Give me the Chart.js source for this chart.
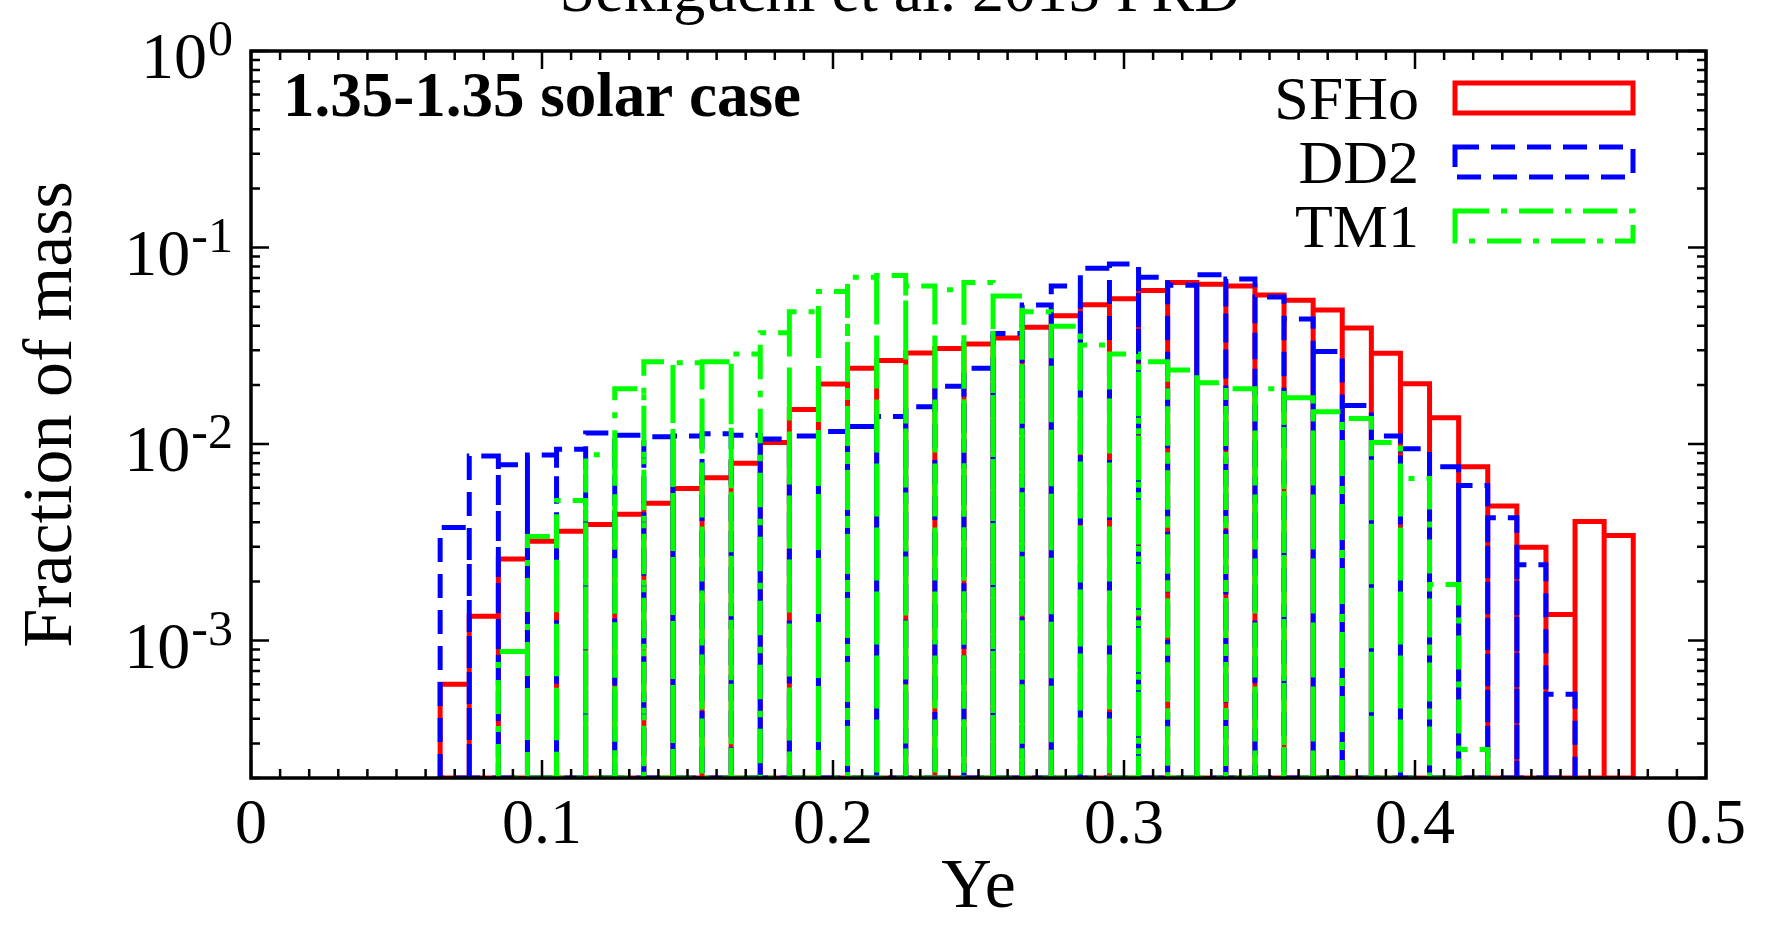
<!DOCTYPE html>
<html>
<head>
<meta charset="utf-8">
<script src="https://cdn.jsdelivr.net/npm/chart.js@4.4.1/dist/chart.umd.min.js"></script>
<style>
  html, body { margin: 0; padding: 0; background: #fff; }
</style>
</head>
<body>
<canvas id="hist" width="1769" height="939"></canvas>
<script>
// bin centres (Ye), bin width 0.01
const yeBins = [0.07, 0.08, 0.09, 0.10, 0.11, 0.12, 0.13, 0.14, 0.15, 0.16,
                0.17, 0.18, 0.19, 0.20, 0.21, 0.22, 0.23, 0.24, 0.25, 0.26,
                0.27, 0.28, 0.29, 0.30, 0.31, 0.32, 0.33, 0.34, 0.35, 0.36,
                0.37, 0.38, 0.39, 0.40, 0.41, 0.42, 0.43, 0.44, 0.45, 0.46, 0.47];

const sfhoMass = [6.0e-4, 1.33e-3, 2.6e-3, 3.2e-3, 3.6e-3, 3.9e-3, 4.4e-3, 5.0e-3, 5.95e-3, 6.75e-3,
                  8.0e-3, 1.02e-2, 1.5e-2, 2.02e-2, 2.43e-2, 2.66e-2, 2.91e-2, 3.06e-2, 3.23e-2, 3.47e-2,
                  3.93e-2, 4.5e-2, 5.12e-2, 5.49e-2, 6.05e-2, 6.63e-2, 6.5e-2, 6.37e-2, 5.73e-2, 5.4e-2,
                  4.81e-2, 3.9e-2, 2.9e-2, 2.03e-2, 1.36e-2, 7.67e-3, 4.84e-3, 2.99e-3, 1.36e-3, 4.04e-3, 3.43e-3];

const dd2Mass = [3.76e-3, 8.7e-3, 7.85e-3, 8.8e-3, 9.4e-3, 1.14e-2, 1.11e-2, 1.09e-2, 1.10e-2, 1.13e-2,
                 1.11e-2, 1.06e-2, 1.10e-2, 1.16e-2, 1.23e-2, 1.38e-2, 1.55e-2, 1.97e-2, 2.43e-2, 3.65e-2,
                 5.1e-2, 6.37e-2, 7.85e-2, 8.25e-2, 7.06e-2, 6.42e-2, 7.27e-2, 6.92e-2, 5.61e-2, 4.33e-2,
                 2.96e-2, 1.57e-2, 1.10e-2, 9.46e-3, 7.67e-3, 6.15e-3, 4.22e-3, 2.43e-3, 5.33e-4, null, null];

const tm1Mass = [null, null, 8.8e-4, 3.39e-3, 5.17e-3, 8.83e-3, 1.91e-2, 2.62e-2, 2.59e-2, 2.62e-2,
                 2.87e-2, 3.69e-2, 4.71e-2, 5.97e-2, 7.06e-2, 7.2e-2, 6.37e-2, 6.1e-2, 6.63e-2, 5.67e-2,
                 4.71e-2, 3.98e-2, 3.19e-2, 2.87e-2, 2.62e-2, 2.38e-2, 2.05e-2, 1.91e-2, 1.91e-2, 1.72e-2,
                 1.46e-2, 1.35e-2, 1.02e-2, 6.68e-3, 1.93e-3, 2.79e-4, null, null, null, null, null];

const seriesNames = ['SFHo', 'DD2', 'TM1'];
const xTicks = [0, 0.1, 0.2, 0.3, 0.4, 0.5];
const yDecades = [0, -1, -2, -3];

const binWidth = 0.01;
const yMin = 2e-4;
const yMax = 1;
const serif = '"Liberation Serif", "Times New Roman", serif';

// gnuplot "with boxes": every bin is an open box from the bottom of the axis
function boxPath(values) {
    const pts = [];
    let first = null;
    yeBins.forEach((c, i) => {
        const v = values[i];
        if (v == null) return;
        const x0 = c - binWidth / 2, x1 = c + binWidth / 2;
        pts.push({x: x0, y: yMin}, {x: x0, y: v}, {x: x1, y: v}, {x: x1, y: yMin});
        if (first === null) first = x0;
    });
    pts.push({x: first, y: yMin});
    return pts;
}

const gnuFrame = {
    id: 'gnuFrame',
    afterDraw(chart) {
        const ctx = chart.ctx;
        const a = chart.chartArea;
        const xs = chart.scales.x, ys = chart.scales.y;
        ctx.save();
        ctx.strokeStyle = '#000';
        ctx.lineCap = 'butt';

        // inward tick marks
        ctx.lineWidth = 2.5;
        ctx.beginPath();
        for (let k = 0; k <= 50; k++) {
            const px = xs.getPixelForValue(k / 100);
            const len = k % 10 === 0 ? 18 : 9;
            ctx.moveTo(px, a.bottom); ctx.lineTo(px, a.bottom - len);
            ctx.moveTo(px, a.top); ctx.lineTo(px, a.top + len);
        }
        for (let e = -4; e <= 0; e++) {
            for (let m = 1; m <= 9; m++) {
                const v = m * Math.pow(10, e);
                if (v < yMin * 0.999 || v > yMax * 1.001) continue;
                const py = ys.getPixelForValue(v);
                const len = m === 1 ? 18 : 9;
                ctx.moveTo(a.left, py); ctx.lineTo(a.left + len, py);
                ctx.moveTo(a.right, py); ctx.lineTo(a.right - len, py);
            }
        }
        ctx.stroke();

        // frame
        ctx.lineWidth = 3.5;
        ctx.strokeRect(a.left, a.top, a.right - a.left, a.bottom - a.top);

        // y tick labels 10^n
        ctx.fillStyle = '#000';
        ctx.textAlign = 'right';
        ctx.textBaseline = 'alphabetic';
        const labRight = a.left - 18;
        yDecades.forEach(e => {
            const py = ys.getPixelForValue(Math.pow(10, e));
            const sup = String(e);
            ctx.font = '50px ' + serif;
            const w = ctx.measureText(sup).width;
            ctx.fillText(sup, labRight, py + 4);
            ctx.font = '66px ' + serif;
            ctx.fillText('10', labRight - w - 1, py + 27);
        });

        // legend, top right inside the frame
        const dsOrder = [0, 1, 2];
        dsOrder.forEach((i, row) => {
            const ds = chart.data.datasets[i];
            const cy = a.top + 47 + row * 64;
            ctx.font = '62px ' + serif;
            ctx.textAlign = 'right';
            ctx.fillStyle = '#000';
            ctx.fillText(ds.label, a.right - 287, cy + 21);
            ctx.strokeStyle = ds.borderColor;
            ctx.lineWidth = ds.borderWidth;
            ctx.setLineDash(ds.borderDash || []);
            ctx.strokeRect(a.right - 251, cy - 15, 178, 30);
            ctx.setLineDash([]);
        });

        // case label
        ctx.fillStyle = '#000';
        ctx.textAlign = 'left';
        ctx.font = 'bold 63px ' + serif;
        ctx.fillText('1.35-1.35 solar case', a.left + 32, a.top + 65);

        // plot title, cut by the top edge of the page
        ctx.textAlign = 'center';
        ctx.font = '64px ' + serif;
        ctx.fillText('Sekiguchi et al. 2015 PRD', 900, 11);
        ctx.restore();
    }
};

new Chart(document.getElementById('hist'), {
    type: 'line',
    data: {
        datasets: [
            {label: seriesNames[0], data: boxPath(sfhoMass), borderColor: '#ff0000',
             borderWidth: 5, borderDash: [], order: 2},
            {label: seriesNames[1], data: boxPath(dd2Mass), borderColor: '#0000ff',
             borderWidth: 5, borderDash: [24, 12], order: 1},
            {label: seriesNames[2], data: boxPath(tm1Mass), borderColor: '#00ff00',
             borderWidth: 5, borderDash: [34, 12, 6, 12], order: 0}
        ]
    },
    options: {
        responsive: false,
        animation: false,
        devicePixelRatio: 1,
        layout: {padding: {left: 18, right: 63, top: 51, bottom: 15}},
        elements: {
            point: {radius: 0, hoverRadius: 0},
            line: {tension: 0, fill: false, borderJoinStyle: 'miter', borderCapStyle: 'butt'}
        },
        plugins: {
            legend: {display: false},
            tooltip: {enabled: false}
        },
        scales: {
            x: {
                type: 'linear',
                min: 0, max: 0.5,
                grid: {display: false},
                border: {display: false},
                afterBuildTicks: s => { s.ticks = xTicks.map(v => ({value: v})); },
                ticks: {
                    padding: 8,
                    color: '#000',
                    font: {family: serif, size: 64, lineHeight: 1.0},
                    callback: v => String(+v.toFixed(1)),
                    maxRotation: 0
                },
                title: {
                    display: true, text: 'Ye', color: '#000',
                    font: {family: serif, size: 70, lineHeight: 1.0},
                    padding: {top: -12, bottom: 0}
                }
            },
            y: {
                type: 'logarithmic',
                min: yMin, max: yMax,
                grid: {display: false},
                border: {display: false},
                ticks: {display: false},
                title: {
                    display: true, text: 'Fraction of mass', color: '#000',
                    font: {family: serif, size: 70, lineHeight: 1.0},
                    padding: {top: 0, bottom: 155}
                }
            }
        }
    },
    plugins: [gnuFrame]
});
</script>
</body>
</html>
